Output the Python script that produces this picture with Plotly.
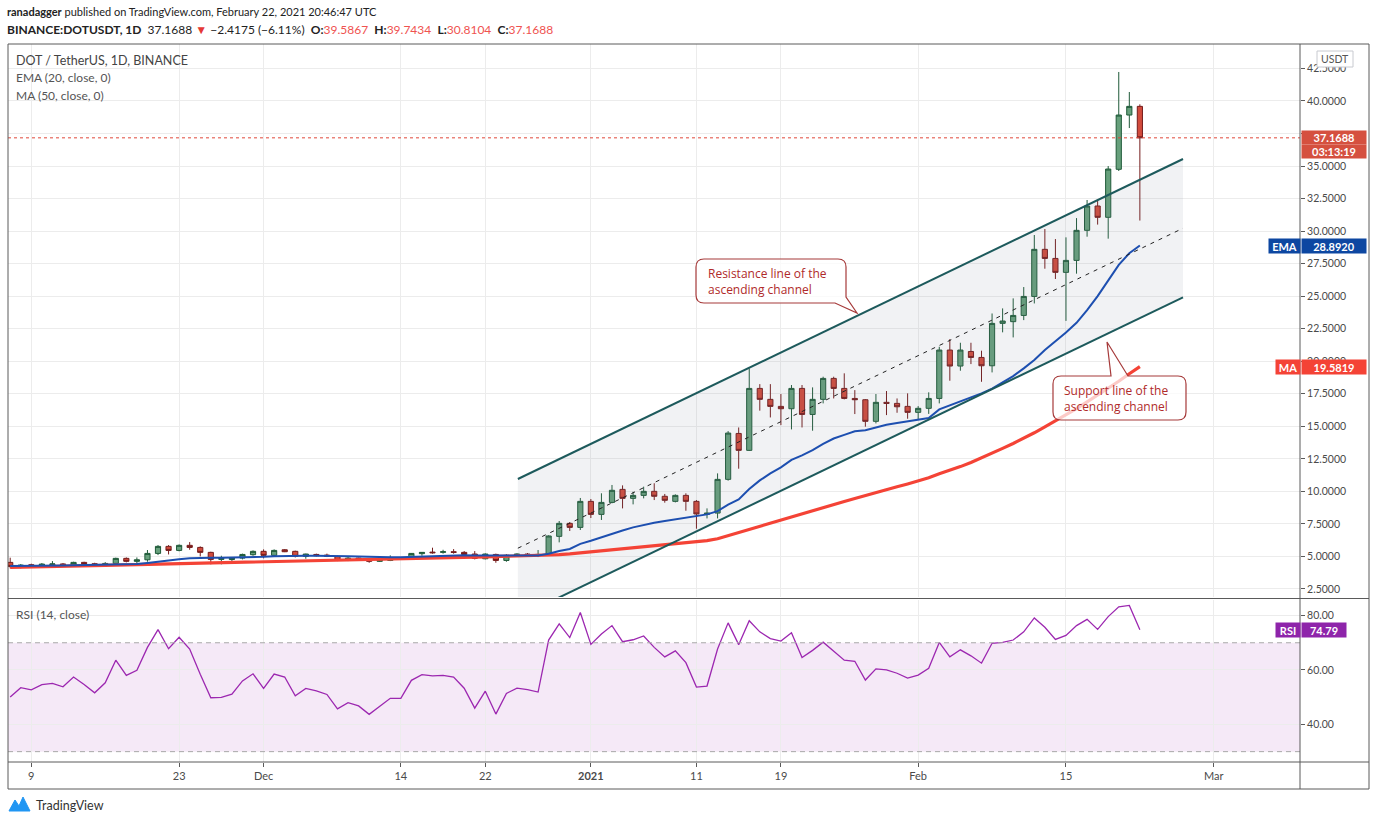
import pandas as pd
import plotly.graph_objects as go

# ---- data (DOT/USDT daily, Nov 7 2020 - Feb 22 2021) ----
start_date = "2020-11-07"
n_days = 108

opens = [4.54, 4.23, 4.36, 4.26, 4.36, 4.42, 4.33, 4.54, 4.44, 4.31,
         4.46, 4.85, 4.62, 4.74, 5.23, 5.77, 5.46, 5.85, 5.69, 5.31,
         4.77, 4.76, 4.87, 5.13, 5.39, 5.08, 5.51, 5.39, 5.00, 5.15,
         5.10, 5.00, 4.69, 4.87, 4.80, 4.62, 4.69, 4.87, 4.85, 5.21,
         5.33, 5.31, 5.36, 5.31, 5.18, 4.82, 5.15, 4.69, 5.08, 5.18,
         5.08, 5.16, 6.54, 7.54, 7.23, 9.23, 8.23, 9.15, 10.15, 9.46,
         9.69, 10.00, 9.62, 9.23, 9.69, 9.23, 8.23, 8.33, 10.92, 14.45,
         13.15, 17.91, 17.07, 16.53, 16.35, 17.91, 15.91, 17.07, 18.68, 17.91,
         17.14, 17.04, 15.38, 16.84, 16.76, 16.53, 16.07, 16.38, 17.14, 20.86,
         19.63, 20.75, 20.29, 19.65, 22.91, 23.04, 23.52, 24.98, 28.60, 27.90,
         26.83, 27.75, 30.06, 31.93, 31.06, 34.75, 38.92, 39.5867]
highs = [4.90, 4.41, 4.44, 4.49, 4.64, 4.49, 4.59, 4.59, 4.51, 4.56,
         4.90, 4.92, 4.92, 5.49, 5.87, 5.87, 5.92, 6.10, 5.77, 5.36,
         5.05, 4.95, 5.21, 5.46, 5.54, 5.54, 5.56, 5.44, 5.21, 5.21,
         5.21, 5.05, 4.95, 4.90, 4.85, 4.80, 5.08, 4.95, 5.26, 5.33,
         5.67, 5.51, 5.56, 5.41, 5.41, 5.23, 5.21, 5.18, 5.23, 5.26,
         5.49, 6.62, 7.72, 7.64, 9.49, 9.41, 9.85, 10.49, 10.46, 9.97,
         10.36, 10.62, 9.80, 9.77, 9.85, 9.33, 8.69, 11.38, 14.63, 14.91,
         19.45, 18.24, 18.24, 17.48, 18.17, 18.17, 17.99, 18.81, 18.81, 19.07,
         17.78, 17.09, 17.48, 17.71, 17.14, 17.53, 16.55, 17.61, 21.11, 21.70,
         21.42, 21.42, 20.81, 23.67, 24.06, 24.83, 25.70, 29.70, 30.16, 29.39,
         29.52, 31.00, 32.39, 32.39, 35.00, 42.23, 40.69, 39.7434]
lows = [4.08, 4.08, 4.16, 4.21, 4.23, 4.23, 4.28, 4.26, 4.26, 4.26,
        4.39, 4.54, 4.41, 4.59, 5.10, 5.15, 5.39, 5.51, 5.00, 4.39,
        4.39, 4.59, 4.77, 5.05, 4.85, 4.98, 5.33, 4.92, 4.82, 5.00,
        4.95, 4.64, 4.64, 4.72, 4.51, 4.57, 4.64, 4.80, 4.80, 5.05,
        5.21, 5.21, 5.21, 5.00, 4.77, 4.77, 4.51, 4.59, 5.03, 5.00,
        4.95, 5.10, 6.08, 6.95, 7.03, 7.95, 7.80, 9.08, 8.69, 9.00,
        9.46, 9.33, 9.13, 9.15, 8.51, 7.13, 7.92, 7.92, 10.82, 11.74,
        13.10, 16.20, 15.68, 15.09, 14.76, 14.91, 14.66, 16.76, 17.14, 17.07,
        15.94, 14.97, 15.22, 15.86, 16.04, 15.58, 15.53, 15.95, 16.76, 18.50,
        19.27, 19.78, 18.42, 19.14, 22.22, 21.83, 23.16, 24.44, 27.11, 26.32,
        23.10, 26.73, 29.57, 30.50, 29.42, 34.62, 37.92, 30.8104]
closes = [4.23, 4.33, 4.26, 4.41, 4.42, 4.33, 4.54, 4.44, 4.31, 4.46,
          4.85, 4.62, 4.74, 5.23, 5.77, 5.46, 5.85, 5.69, 5.31, 4.77,
          4.85, 4.87, 5.15, 5.39, 5.08, 5.46, 5.36, 5.00, 5.18, 5.05,
          5.00, 4.69, 4.87, 4.77, 4.62, 4.74, 4.87, 4.90, 5.23, 5.31,
          5.28, 5.36, 5.31, 5.15, 4.85, 5.18, 4.69, 5.08, 5.18, 5.13,
          5.15, 6.57, 7.54, 7.23, 9.23, 8.23, 9.15, 10.08, 9.46, 9.69,
          10.00, 9.62, 9.31, 9.69, 9.23, 8.26, 8.33, 10.92, 14.48, 13.15,
          17.91, 17.07, 16.53, 16.35, 17.91, 15.91, 17.07, 18.68, 17.91, 17.14,
          17.04, 15.38, 16.84, 16.76, 16.50, 16.07, 16.38, 17.14, 20.86, 19.63,
          20.86, 20.29, 19.65, 22.91, 23.09, 23.52, 24.98, 28.60, 27.90, 26.83,
          27.75, 30.06, 31.93, 31.06, 34.77, 38.92, 39.5867, 37.1688]

ema20 = [4.26, 4.26, 4.27, 4.28, 4.29, 4.30, 4.32, 4.33, 4.33, 4.34,
         4.38, 4.40, 4.42, 4.50, 4.61, 4.69, 4.79, 4.86, 4.90, 4.89,
         4.89, 4.90, 4.92, 4.96, 4.97, 5.01, 5.04, 5.04, 5.05, 5.05,
         5.05, 5.02, 5.01, 4.99, 4.96, 4.95, 4.94, 4.94, 4.97, 5.00,
         5.03, 5.05, 5.07, 5.08, 5.06, 5.07, 5.03, 5.04, 5.05, 5.06,
         5.07, 5.20, 5.42, 5.57, 5.96, 6.20, 6.48, 6.72, 6.99, 7.23,
         7.42, 7.59, 7.72, 7.85, 7.99, 8.12, 8.23, 8.48, 8.98, 9.38,
         10.18, 10.84, 11.38, 11.84, 12.42, 12.76, 13.17, 13.65, 14.06, 14.34,
         14.62, 14.70, 14.93, 15.11, 15.25, 15.38, 15.47, 15.63, 16.30, 16.60,
         16.89, 17.20, 17.53, 17.90, 18.37, 18.86, 19.45, 20.09, 20.86, 21.50,
         22.20, 22.95, 23.93, 25.00, 26.20, 27.40, 28.30, 28.892]
ma50 = [4.16, 4.17, 4.19, 4.21, 4.22, 4.24, 4.26, 4.28, 4.29, 4.31,
        4.33, 4.35, 4.36, 4.38, 4.40, 4.41, 4.43, 4.45, 4.47, 4.48,
        4.50, 4.52, 4.53, 4.55, 4.57, 4.59, 4.61, 4.63, 4.64, 4.66,
        4.68, 4.70, 4.72, 4.74, 4.76, 4.78, 4.79, 4.81, 4.83, 4.85,
        4.87, 4.89, 4.91, 4.93, 4.95, 4.96, 4.98, 5.00, 5.02, 5.03,
        5.05, 5.08, 5.13, 5.19, 5.27, 5.34, 5.42, 5.51, 5.59, 5.67,
        5.75, 5.83, 5.91, 5.99, 6.07, 6.14, 6.21, 6.36, 6.60, 6.85,
        7.10, 7.35, 7.58, 7.82, 8.05, 8.28, 8.50, 8.74, 8.98, 9.22,
        9.45, 9.66, 9.89, 10.12, 10.35, 10.57, 10.80, 11.04, 11.36, 11.62,
        11.90, 12.22, 12.56, 12.92, 13.30, 13.68, 14.08, 14.50, 14.95, 15.40,
        15.85, 16.35, 16.87, 17.38, 17.90, 18.46, 19.04, 19.5819]
rsi14 = [50.1, 53.5, 52.7, 54.6, 55.1, 53.8, 57.4, 54.7, 51.6, 55.3,
         63.6, 58.0, 59.9, 68.3, 74.8, 67.8, 72.0, 67.7, 58.4, 49.8,
         49.9, 51.1, 56.0, 58.6, 53.2, 58.5, 57.4, 50.5, 53.2, 52.3,
         51.0, 45.7, 48.0, 46.8, 43.7, 46.7, 49.6, 49.6, 56.2, 58.3,
         57.8, 58.0, 57.4, 53.3, 46.0, 52.2, 43.8, 51.4, 53.3, 52.8,
         51.9, 71.0, 76.9, 71.9, 81.1, 69.4, 73.2, 76.3, 70.4, 71.1,
         72.5, 68.3, 64.8, 67.0, 62.7, 53.7, 54.1, 67.7, 77.3, 69.3,
         78.1, 74.0, 71.5, 70.6, 73.7, 64.6, 67.2, 70.2, 66.9, 63.6,
         63.2, 56.3, 60.4, 60.0, 58.8, 57.0, 58.1, 60.6, 70.1, 64.8,
         67.4, 65.2, 62.5, 69.8, 70.1, 71.0, 74.0, 79.1, 75.7, 71.2,
         72.7, 76.3, 78.6, 74.9, 79.6, 83.2, 83.7, 74.79]

# ascending channel drawing (anchor dates and prices)
channel_dates = ["2020-12-25 02:00", "2021-02-26 02:00"]
resistance_prices = [10.95, 35.54]
support_prices = [0.32, 24.91]
midline_prices = [5.63, 30.22]

tick_dates = ["2020-11-09", "2020-11-23", "2020-12-01", "2020-12-14", "2020-12-22",
              "2021-01-01", "2021-01-11", "2021-01-19", "2021-02-01", "2021-02-15",
              "2021-03-01"]
tick_text = ["9", "23", "Dec", "14", "22", "<b>2021</b>", "11", "19", "Feb", "15", "Mar"]
price_ticks = [2.5, 5, 7.5, 10, 12.5, 15, 17.5, 20, 22.5, 25, 27.5, 30, 32.5, 35,
               37.5, 40, 42.5]
rsi_ticks = [40, 60, 80]

last_price = 37.1688
last_ema = 28.8920
last_ma = 19.5819
last_rsi = 74.79

dates = pd.date_range(start_date, periods=n_days, freq="D")

# the 37.5 label sits fully under the last-price tag in the original, so leave it blank
price_tick_text = ["" if v == 37.5 else f"{v:.4f}" for v in price_ticks]

# ---- pixel -> paper helpers (plot area 8..1300 x 44..762 in a 1376x824 page) ----
L, R, T, B = 8, 1300, 44, 762
W, H = R - L, B - T


def px(x):
    return (x - L) / W


def py(y):
    return (B - y) / H


FONT = "Lato, 'Open Sans', sans-serif"
NOTE_FONT = "'Open Sans', Lato, sans-serif"
GRID = "#ececec"
FRAME = "#5a5a5a"

fig = go.Figure()

# channel fill
fig.add_trace(go.Scatter(
    x=[channel_dates[0], channel_dates[1], channel_dates[1], channel_dates[0]],
    y=[resistance_prices[0], resistance_prices[1], support_prices[1], support_prices[0]],
    fill="toself", fillcolor="rgba(120,128,145,0.10)", mode="none",
    hoverinfo="skip", showlegend=False, xaxis="x", yaxis="y"))

fig.add_trace(go.Candlestick(
    x=dates, open=opens, high=highs, low=lows, close=closes,
    increasing=dict(line=dict(color="#1f5a39", width=1), fillcolor="#67a07c"),
    decreasing=dict(line=dict(color="#741c1c", width=1), fillcolor="#d24b3c"),
    whiskerwidth=0, showlegend=False, xaxis="x", yaxis="y"))

fig.add_trace(go.Scatter(x=dates, y=ma50, mode="lines",
                         line=dict(color="#f44336", width=3.2),
                         showlegend=False, xaxis="x", yaxis="y"))
fig.add_trace(go.Scatter(x=dates, y=ema20, mode="lines",
                         line=dict(color="#1d4fb0", width=2),
                         showlegend=False, xaxis="x", yaxis="y"))

for prices in (resistance_prices, support_prices):
    fig.add_trace(go.Scatter(x=channel_dates, y=prices, mode="lines",
                             line=dict(color="#1d5a5c", width=2),
                             showlegend=False, xaxis="x", yaxis="y"))
fig.add_trace(go.Scatter(x=channel_dates, y=midline_prices, mode="lines",
                         line=dict(color="#222222", width=1, dash="4px,5px"),
                         showlegend=False, xaxis="x", yaxis="y"))

fig.add_trace(go.Scatter(x=dates, y=rsi14, mode="lines",
                         line=dict(color="#9c27b0", width=1.3),
                         showlegend=False, xaxis="x", yaxis="y2"))

shapes = []
# RSI band and levels
shapes.append(dict(type="rect", xref="paper", yref="y2", x0=0, x1=1, y0=30, y1=70,
                   fillcolor="rgba(156,39,176,0.10)", line=dict(width=0), layer="below"))
for lvl in (30, 70):
    shapes.append(dict(type="line", xref="paper", yref="y2", x0=0, x1=1, y0=lvl, y1=lvl,
                       line=dict(color="#a8a8a8", width=1, dash="5px,4px")))
# last price line
shapes.append(dict(type="line", xref="paper", yref="y", x0=0, x1=1,
                   y0=last_price, y1=last_price,
                   line=dict(color="#e0483a", width=1, dash="dot")))

# frame
frame_lines = [((L, T), (1369, T)), ((L, T), (L, 789)), ((1369, T), (1369, 789)),
               ((L, 789), (1369, 789)), ((R, T), (R, 789)),
               ((L, 598.5), (1369, 598.5)), ((L, B), (1369, B))]
for (x0, y0), (x1, y1) in frame_lines:
    shapes.append(dict(type="line", xref="paper", yref="paper",
                       x0=px(x0), y0=py(y0), x1=px(x1), y1=py(y1),
                       line=dict(color=FRAME, width=1)))


def path(cmds):
    out = []
    for c in cmds:
        if isinstance(c, str):
            out.append(c)
        else:
            out.append(f"{px(c[0]):.5f},{py(c[1]):.5f}")
    return " ".join(out)


# callouts
res_box = path(["M", (704, 259), "L", (838, 259), "Q", (846, 259), (846, 267),
                "L", (846, 297), "L", (857, 313), "L", (835, 303), "L", (704, 303),
                "Q", (696, 303), (696, 295), "L", (696, 267), "Q", (696, 259), (704, 259), "Z"])
sup_box = path(["M", (1061, 376), "L", (1111, 376), "L", (1107, 342), "L", (1128, 376),
                "L", (1178, 376), "Q", (1186, 376), (1186, 384), "L", (1186, 412),
                "Q", (1186, 420), (1178, 420), "L", (1061, 420), "Q", (1053, 420), (1053, 412),
                "L", (1053, 384), "Q", (1053, 376), (1061, 376), "Z"])
for p in (res_box, sup_box):
    shapes.append(dict(type="path", xref="paper", yref="paper", path=p,
                       fillcolor="rgba(255,255,255,0.72)",
                       line=dict(color="#a63a3a", width=1.2), layer="above"))

# USDT box
shapes.append(dict(type="rect", xref="paper", yref="paper",
                   x0=px(1317), x1=px(1353), y0=py(67), y1=py(51),
                   fillcolor="white", line=dict(color="#c8cad0", width=1)))

# TradingView logo glyph
logo = path(["M", (9, 811), "L", (15, 800), "L", (19, 806), "L", (23, 797), "L", (30, 811), "Z"])
shapes.append(dict(type="path", xref="paper", yref="paper", path=logo,
                   fillcolor="#2196f3", line=dict(color="#2196f3", width=1)))

annotations = []


def text(x, y, s, size=12, color="#333", anchor="left", family=FONT):
    annotations.append(dict(xref="paper", yref="paper", x=px(x), y=py(y), text=s,
                            showarrow=False, xanchor=anchor, yanchor="middle",
                            align=anchor if anchor != "center" else "center",
                            font=dict(family=family, size=size, color=color)))


red = "#ef5350"
header2 = (f"<b>BINANCE:DOTUSDT, 1D</b>  37.1688 <span style='color:#e53935'>▼</span> "
           f"−2.4175 (−6.11%)  <b>O:</b><span style='color:{red}'>39.5867</span>  "
           f"<b>H:</b><span style='color:{red}'>39.7434</span>  "
           f"<b>L:</b><span style='color:{red}'>30.8104</span>  "
           f"<b>C:</b><span style='color:{red}'>37.1688</span>")
text(5, 11, "<b>ranadagger</b> published on TradingView.com, February 22, 2021 20:46:47 UTC",
     size=11, color="#222")
text(5, 29, header2, size=12, color="#222")
text(14, 61, "DOT / TetherUS, 1D, BINANCE", size=12.5, color="#444")
text(14, 78, "EMA (20, close, 0)", size=12, color="#555")
text(14, 95, "MA (50, close, 0)", size=12, color="#555")
text(14, 614, "RSI (14, close)", size=12, color="#555")
note_red = "#b02a2a"
text(706, 281, "Resistance line of the<br>ascending channel", size=12, color=note_red,
     family=NOTE_FONT)
text(1062, 398, "Support line of the<br>ascending channel", size=12, color=note_red,
     family=NOTE_FONT)
text(1335, 59, "USDT", size=10.5, color="#555", anchor="center")
text(34, 805, "TradingView", size=12.5, color="#333")


def label(y, s, bg, yref="y", x=1301, width=62, height=12):
    annotations.append(dict(xref="paper", yref=yref, x=px(x), y=y, text=f"<b>{s}</b>",
                            showarrow=False, xanchor="left", yanchor="middle",
                            bgcolor=bg, width=width, height=height, borderpad=1,
                            font=dict(family=FONT, size=11, color="white")))


label(last_price, "37.1688", "#d5503f", height=11)
annotations.append(dict(xref="paper", yref="paper", x=px(1301), y=py(151.5), text="<b>03:13:19</b>",
                        showarrow=False, xanchor="left", yanchor="middle", bgcolor="#d5503f",
                        width=62, height=11, borderpad=1,
                        font=dict(family=FONT, size=11, color="white")))
label(last_ema, "28.8920", "#0d47a1")
label(last_ema, "EMA", "#0d47a1", x=1268, width=29)
label(last_ma, "19.5819", "#f44336")
label(last_ma, "MA", "#f44336", x=1275, width=22)
label(last_rsi, "74.79", "#8e24aa", yref="y2", width=42)
label(last_rsi, "RSI", "#8e24aa", yref="y2", x=1275, width=22)

fig.update_layout(
    width=1376, height=824,
    margin=dict(l=L, r=1376 - R, t=T, b=824 - B),
    paper_bgcolor="white", plot_bgcolor="white",
    font=dict(family=FONT, size=11, color="#4a4a4a"),
    showlegend=False,
    xaxis=dict(type="date", domain=[0, 1], anchor="y2",
               range=["2020-11-06 19:00", "2021-03-09 04:00"],
               tickvals=tick_dates, ticktext=tick_text,
               showgrid=True, gridcolor=GRID, gridwidth=1,
               ticks="outside", ticklen=4, tickcolor=FRAME,
               tickfont=dict(size=11, color="#4a4a4a"),
               rangeslider=dict(visible=False), zeroline=False),
    yaxis=dict(domain=[py(597), 1], anchor="x", side="right",
               range=[1.88, 44.38], tickvals=price_ticks, ticktext=price_tick_text,
               showgrid=True, gridcolor=GRID, ticks="outside", ticklen=4,
               tickcolor=FRAME, tickfont=dict(size=10.5, color="#4a4a4a"),
               zeroline=False),
    yaxis2=dict(domain=[0, py(600)], anchor="x", side="right",
                range=[26.2, 85.7], tickvals=rsi_ticks, tickformat=".2f",
                showgrid=True, gridcolor=GRID, ticks="outside", ticklen=4,
                tickcolor=FRAME, tickfont=dict(size=10.5, color="#4a4a4a"),
                zeroline=False),
    shapes=shapes,
    annotations=annotations,
)

# drop the browser's default page margin so the figure sits at the page origin
fig.write_html("out.html", config={"displayModeBar": False},
               post_script="document.body.style.margin='0px';")
